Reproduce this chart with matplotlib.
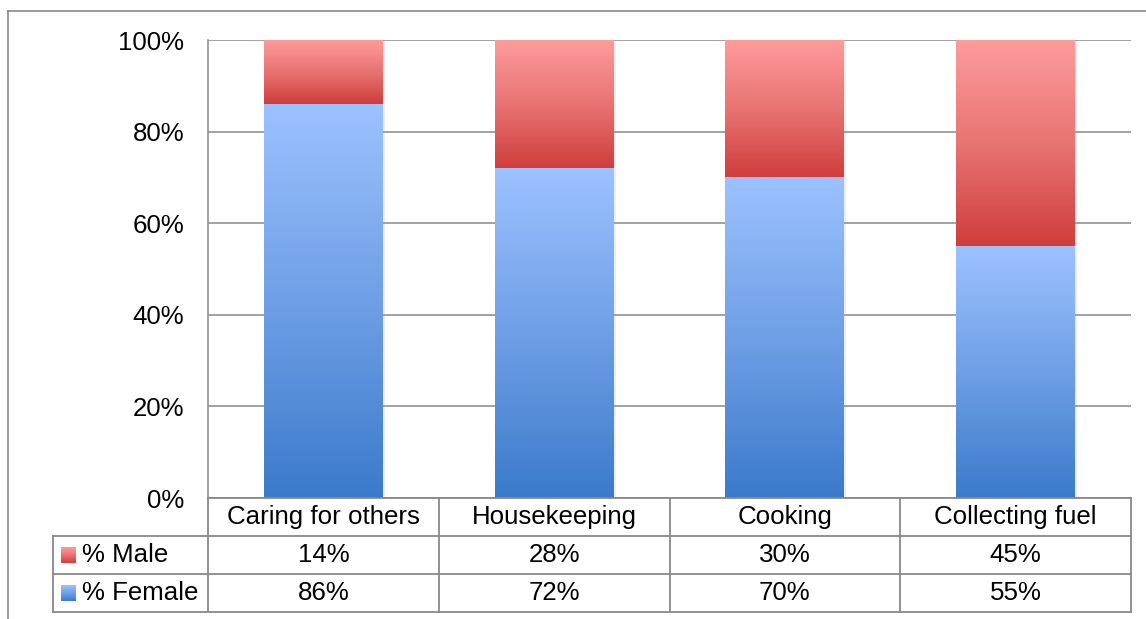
import numpy as np
import matplotlib.pyplot as plt
from matplotlib.colors import LinearSegmentedColormap
import matplotlib.patheffects as pe

# data
categories = ['Caring for others', 'Housekeeping', 'Cooking', 'Collecting fuel']
male = [14, 28, 30, 45]
female = [86, 72, 70, 55]
row_names = ['% Male', '% Female']
yticks = [0, 20, 40, 60, 80, 100]

W, H = 1146, 619
plt.rcParams['font.family'] = ['Liberation Sans', 'DejaVu Sans']
plt.rcParams['font.size'] = 18.6

line_col = '#898989'
blue_cmap = LinearSegmentedColormap.from_list('blue', ['#3b7acb', '#6f9fe6', '#9cc2ff'])
red_cmap = LinearSegmentedColormap.from_list('red', ['#cf3e3c', '#e87473', '#ff9c9c'])
grad = np.linspace(0, 1, 256).reshape(-1, 1)


def px(x0, y0, x1, y1):
    # pixel box (top-left origin) -> figure fraction rect
    return [x0 / W, 1 - y1 / H, (x1 - x0) / W, (y1 - y0) / H]


fig = plt.figure(figsize=(W / 100, H / 100), dpi=100)

# outer chart frame (cut off at right and bottom)
fig.add_artist(plt.Line2D([8 / W, 8 / W], [0, 1 - 11 / H], color=line_col, lw=1.2))
fig.add_artist(plt.Line2D([8 / W, 1], [1 - 11 / H, 1 - 11 / H], color=line_col, lw=1.2))

# plot area
ax = fig.add_axes(px(208, 40, 1131, 498))
x = np.arange(len(categories))
bw = 0.515

shadow = [pe.SimplePatchShadow(offset=(1.5, -1), shadow_rgbFace='#909090', alpha=0.15)]
f_bars = ax.bar(x, female, bw, color='none', zorder=2, path_effects=shadow)
m_bars = ax.bar(x, male, bw, bottom=female, color='none', zorder=2, path_effects=shadow)

for bars, cmap in [(f_bars, blue_cmap), (m_bars, red_cmap)]:
    for b in bars:
        x0, y0 = b.get_x(), b.get_y()
        ax.imshow(grad, cmap=cmap, origin='lower', aspect='auto', zorder=3,
                  extent=(x0, x0 + b.get_width(), y0, y0 + b.get_height()))

ax.set_xlim(-0.5, len(categories) - 0.5)
ax.set_ylim(0, 100)
ax.set_yticks(yticks)
ax.set_yticklabels([f'{v}%' for v in yticks])
ax.set_xticks([])
ax.tick_params(axis='y', length=0, pad=17)
ax.yaxis.grid(True, color=line_col, lw=1.1)
ax.set_axisbelow(True)
for side in ['top', 'right', 'bottom']:
    ax.spines[side].set_visible(False)
ax.spines['left'].set_color(line_col)
ax.spines['left'].set_linewidth(1.1)

# data table below the plot, sharing the category scale
label_w = 155 / 230.75
tax = fig.add_axes(px(53, 498, 1131, 612))
left = -0.5 - label_w
right = len(categories) - 0.5
tax.set_xlim(left, right)
tax.set_ylim(3, 0)
tax.axis('off')

lk = dict(color=line_col, lw=1.3, clip_on=False)
tax.plot([-0.5, right], [0, 0], **lk)
for r in [1, 2, 3]:
    tax.plot([left, right], [r, r], **lk)
tax.plot([left, left], [1, 3], **lk)
for c in np.arange(-0.5, right + 0.5):
    tax.plot([c, c], [0, 3], **lk)

for i, cat in enumerate(categories):
    tax.text(i, 0.5, cat, ha='center', va='center')
    tax.text(i, 1.5, f'{male[i]}%', ha='center', va='center')
    tax.text(i, 2.5, f'{female[i]}%', ha='center', va='center')

sw_w = 15 / 230.75
sw_x0 = left + 8 / 230.75
for r, (name, cmap) in enumerate(zip(row_names, [red_cmap, blue_cmap]), start=1):
    tax.imshow(grad, cmap=cmap, origin='lower', aspect='auto',
               extent=(sw_x0, sw_x0 + sw_w, r + 0.7, r + 0.3))
    tax.text(left + 29 / 230.75, r + 0.5, name, ha='left', va='center')
tax.set_xlim(left, right)
tax.set_ylim(3, 0)

fig.savefig('out.png', dpi=100)
